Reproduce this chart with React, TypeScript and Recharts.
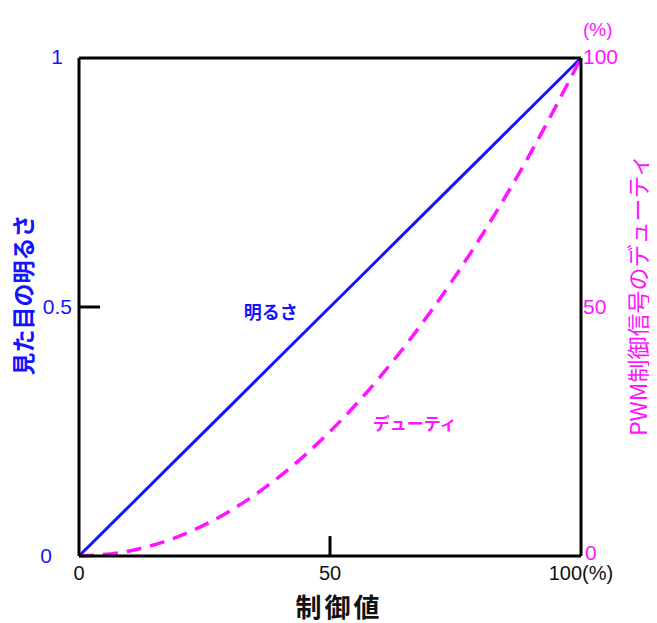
import React from "react";
import {
  LineChart,
  Line,
  XAxis,
  YAxis,
  ReferenceLine,
  ReferenceDot,
  Customized,
} from "recharts";

const controlValues = [0, 10, 20, 30, 40, 50, 60, 70, 80, 90, 100];
const brightnessValues = [0, 0.1, 0.2, 0.3, 0.4, 0.5, 0.6, 0.7, 0.8, 0.9, 1];
const dutyValues = [0, 1, 4, 9, 16, 25, 36, 49, 64, 81, 100];

const xTicks = [0, 50, 100];
const leftTicks = [0, 0.5, 1];
const rightTicks = [0, 50, 100];

const data = controlValues.map((x, i) => ({
  x,
  brightness: brightnessValues[i],
  duty: dutyValues[i],
}));

const BLUE = "#1414ff";
const MAGENTA = "#ff14ff";
const FONT = "'Liberation Sans', Arial, 'Noto Sans CJK JP', sans-serif";
const JFONT = "'Noto Sans CJK JP', 'Liberation Sans', sans-serif";

const BottomTick = (props: any) => {
  const { x, y, payload } = props;
  const v = payload.value;
  const label = v === 100 ? "100(%)" : String(v);
  return (
    <text
      x={x}
      y={y + 24}
      textAnchor="middle"
      fontFamily={FONT}
      fontSize={20}
      fill="#111"
    >
      {label}
    </text>
  );
};

const LeftTick = (props: any) => {
  const { x, y, payload } = props;
  const v = payload.value;
  let dx = -7;
  let dy = 7;
  if (v === 1) {
    dx = -16;
    dy = 6;
  } else if (v === 0) {
    dx = -27;
    dy = 7;
  }
  return (
    <text
      x={x + dx}
      y={y + dy}
      textAnchor="end"
      fontFamily={FONT}
      fontSize={21}
      fill={BLUE}
    >
      {String(v)}
    </text>
  );
};

const RightTick = (props: any) => {
  const { x, y, payload } = props;
  const v = payload.value;
  let dx = 2;
  let dy = 7;
  if (v === 0) {
    dx = 4;
    dy = 4;
  } else if (v === 100) {
    dy = 6;
  }
  return (
    <g>
      <text
        x={x + dx}
        y={y + dy}
        textAnchor="start"
        fontFamily={FONT}
        fontSize={21}
        fill={MAGENTA}
      >
        {String(v)}
      </text>
      {v === 100 ? (
        <text
          x={x + dx}
          y={y - 22}
          textAnchor="start"
          fontFamily={FONT}
          fontSize={19}
          fill={MAGENTA}
        >
          (%)
        </text>
      ) : null}
    </g>
  );
};

const Titles = () => (
  <g>
    <text
      x={14}
      y={287}
      transform="rotate(-90 14 287)"
      textAnchor="middle"
      dominantBaseline="central"
      fontFamily={JFONT}
      fontWeight="bold"
      fontSize={23}
      fill={BLUE}
    >
      見た目の明るさ
    </text>
    <text
      x={629}
      y={287}
      transform="rotate(-90 629 287)"
      textAnchor="middle"
      dominantBaseline="central"
      fontFamily={JFONT}
      fontSize={23}
      fill={MAGENTA}
    >
      PWM制御信号のデューティ
    </text>
    <text
      x={331}
      y={609}
      textAnchor="middle"
      fontFamily={JFONT}
      fontWeight="bold"
      fontSize={26}
      letterSpacing={3}
      fill="#111"
    >
      制御値
    </text>
  </g>
);

export default function App() {
  return (
    <LineChart
      width={641}
      height={615}
      data={data}
      margin={{ top: 0, right: 0, bottom: 0, left: 0 }}
    >
      <XAxis
        xAxisId="bottom"
        dataKey="x"
        type="number"
        domain={[0, 100]}
        ticks={xTicks}
        interval={0}
        height={67}
        tickSize={0}
        tickMargin={0}
        tickLine={false}
        axisLine={{ stroke: "#000", strokeWidth: 3 }}
        tick={BottomTick}
      />
      <XAxis
        xAxisId="top"
        orientation="top"
        dataKey="x"
        type="number"
        domain={[0, 100]}
        height={50}
        tick={false}
        tickLine={false}
        axisLine={{ stroke: "#000", strokeWidth: 3 }}
      />
      <YAxis
        yAxisId="left"
        type="number"
        domain={[0, 1]}
        ticks={leftTicks}
        interval={0}
        width={71}
        tickSize={0}
        tickMargin={0}
        tickLine={false}
        axisLine={{ stroke: "#000", strokeWidth: 3 }}
        tick={LeftTick}
      />
      <YAxis
        yAxisId="right"
        orientation="right"
        type="number"
        domain={[0, 100]}
        ticks={rightTicks}
        interval={0}
        width={68}
        tickSize={0}
        tickMargin={0}
        tickLine={false}
        axisLine={{ stroke: "#000", strokeWidth: 3 }}
        tick={RightTick}
      />
      <ReferenceLine
        xAxisId="bottom"
        yAxisId="left"
        segment={[
          { x: 0, y: 0.5 },
          { x: 4.2, y: 0.5 },
        ]}
        stroke="#000"
        strokeWidth={3}
      />
      <ReferenceLine
        xAxisId="bottom"
        yAxisId="left"
        segment={[
          { x: 50, y: 0 },
          { x: 50, y: 0.04 },
        ]}
        stroke="#000"
        strokeWidth={3}
      />
      <Line
        xAxisId="bottom"
        yAxisId="left"
        dataKey="brightness"
        type="linear"
        stroke={BLUE}
        strokeWidth={3}
        dot={false}
        isAnimationActive={false}
      />
      <Line
        xAxisId="bottom"
        yAxisId="right"
        dataKey="duty"
        type="monotone"
        stroke={MAGENTA}
        strokeWidth={3.5}
        strokeDasharray="15 9"
        dot={false}
        isAnimationActive={false}
      />
      <ReferenceDot
        xAxisId="bottom"
        yAxisId="left"
        x={38.2}
        y={0.488}
        r={0}
        fill="none"
        stroke="none"
        label={{
          value: "明るさ",
          position: "center",
          fill: BLUE,
          fontSize: 18,
          fontWeight: "bold",
          fontFamily: JFONT,
        }}
      />
      <ReferenceDot
        xAxisId="bottom"
        yAxisId="right"
        x={66.9}
        y={26.5}
        r={0}
        fill="none"
        stroke="none"
        label={{
          value: "デューティ",
          position: "center",
          fill: MAGENTA,
          fontSize: 17,
          fontWeight: "bold",
          fontFamily: JFONT,
        }}
      />
      <Customized component={Titles} />
    </LineChart>
  );
}
